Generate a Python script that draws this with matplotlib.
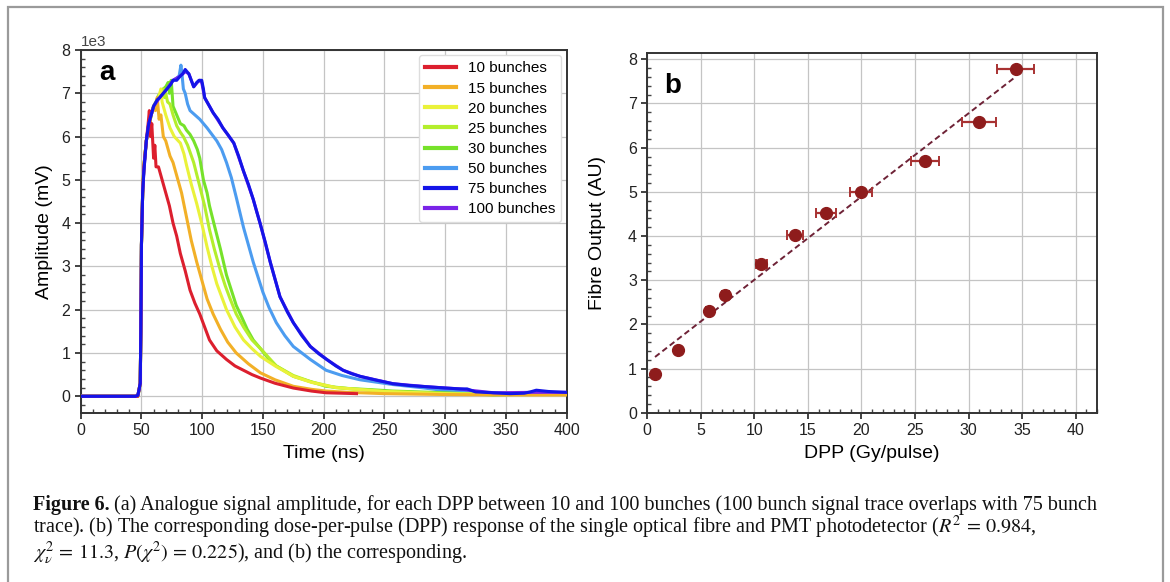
import numpy as np
import matplotlib
matplotlib.use("Agg")
import matplotlib.pyplot as plt
from matplotlib.patches import Rectangle
from matplotlib.ticker import AutoMinorLocator

plt.rcParams['font.family'] = ['Liberation Sans', 'DejaVu Sans']
plt.rcParams['mathtext.fontset'] = 'stix'

# ---- panel a: signal traces (time in ns, amplitude in mV) ----
t10 = [0, 47, 48, 49, 49.5, 50, 51, 52, 54, 55.5, 56.5, 57.5, 58.5, 60, 61, 62, 64, 66, 68, 71, 73, 76, 79,
       82, 86, 90, 94, 98, 102, 106, 112, 120, 127, 134, 141, 148, 160, 175, 190, 202, 215, 227]
a10 = [0, 0, 150, 300, 1500, 3500, 4700, 5300, 5900, 6300, 6600, 6000, 6300, 5500, 5800, 5300, 5300, 5100,
       4900, 4600, 4400, 4000, 3700, 3300, 2900, 2450, 2150, 1900, 1600, 1300, 1050, 850, 700, 600, 500, 420,
       300, 190, 120, 80, 70, 60]

t15 = [0, 47, 48, 49, 49.5, 50, 51, 52, 54, 56, 58, 60, 61.5, 63, 64.5, 66, 68, 70, 73.5, 76, 79, 83, 87, 91,
       95.5, 100, 104, 109, 115, 121, 128, 138, 148, 160, 175, 190, 202, 220, 250, 300, 350, 400]
a15 = [0, 0, 150, 300, 1500, 3500, 4700, 5300, 5900, 6200, 6500, 6700, 6600, 6900, 6400, 6500, 6000, 5900,
       5550, 5400, 5100, 4700, 4150, 3600, 3100, 2650, 2250, 1900, 1550, 1250, 1000, 750, 540, 380, 230, 160,
       120, 90, 60, 40, 30, 30]

t20 = [0, 47, 48, 49, 49.5, 50, 51, 52, 54, 56, 58, 60, 62, 64, 66, 67, 68, 70, 73.5, 77, 82, 85, 87, 91, 95.5,
       100, 104, 108, 112, 116, 120, 127, 134, 141, 148, 160, 175, 190, 210, 250, 300, 350, 400]
a20 = [0, 0, 150, 300, 1500, 3500, 4700, 5300, 5900, 6200, 6500, 6700, 6800, 6900, 7100, 6800, 6700, 6500,
       6200, 6000, 5850, 5600, 5350, 4900, 4450, 3950, 3450, 3000, 2600, 2300, 2000, 1600, 1300, 1100, 920,
       700, 460, 320, 200, 110, 60, 40, 40]

t25 = [0, 47, 48, 49, 49.5, 50, 51, 52, 54, 56, 58, 60, 62, 64, 66, 68, 69, 70, 71.5, 73.5, 76, 79, 82, 84.5,
       88, 93, 98, 102, 106, 110, 115, 119, 123, 128, 134, 141, 148, 161, 175, 190, 210, 250, 300, 350, 400]
a25 = [0, 0, 150, 300, 1500, 3500, 4700, 5300, 5900, 6200, 6500, 6700, 6800, 6900, 7000, 7100, 6900, 7000,
       6800, 6750, 6500, 6250, 6100, 6000, 5800, 5400, 4850, 4400, 3850, 3400, 2900, 2550, 2250, 1900, 1600,
       1300, 1100, 700, 480, 330, 200, 110, 60, 40, 40]

t30 = [0, 47, 48, 49, 49.5, 50, 51, 52, 54, 56, 58, 60, 62, 64, 66, 68, 70, 72, 73, 74.5, 76, 79, 82, 85, 87,
       90, 93, 96, 98, 101, 104, 106, 110, 115, 120, 124, 128, 133, 137, 142, 148, 155, 161, 175, 190, 202,
       220, 240, 257, 300, 340, 370, 400]
a30 = [0, 0, 150, 300, 1500, 3500, 4700, 5300, 5900, 6200, 6500, 6700, 6800, 6950, 7000, 7100, 7150, 7250,
       7000, 7300, 6700, 6500, 6300, 6250, 6150, 6050, 5900, 5700, 5500, 5000, 4700, 4400, 3950, 3400, 2800,
       2450, 2100, 1800, 1550, 1300, 1100, 850, 700, 460, 330, 230, 180, 150, 120, 80, 30, 50, 50]

t50 = [0, 47, 48, 49, 49.5, 50, 51, 52, 54, 56, 58, 60, 63, 66, 70, 73, 76, 79, 81, 82.5, 83.5, 84.5, 86, 88,
       90, 94, 98, 101, 104, 108, 112, 116, 120, 124, 128, 131, 134, 138, 142, 146, 150, 155, 161, 168, 175,
       182, 189, 202, 215, 230, 257, 280, 300, 330, 360, 400]
a50 = [0, 0, 150, 300, 1500, 3500, 4700, 5300, 5900, 6300, 6500, 6700, 6850, 7000, 7100, 7200, 7300, 7350,
       7400, 7650, 7400, 7100, 7000, 6750, 6600, 6500, 6400, 6300, 6200, 6050, 5900, 5700, 5400, 5050, 4600,
       4250, 3900, 3500, 3100, 2750, 2400, 2050, 1700, 1400, 1150, 1000, 850, 600, 480, 380, 270, 200, 130,
       80, 70, 60]

t75 = [0, 45, 47, 48, 49, 49.5, 50, 51, 52, 54, 56, 58, 60, 63, 65, 68, 71, 74, 76, 79, 82, 84, 86, 87.5, 89,
       91, 93, 95.5, 97.5, 99.6, 101, 102, 105, 109, 113, 117, 121, 126, 130, 134, 138, 142, 145, 147.6, 152,
       156, 160, 164, 170, 175, 182, 189, 196, 202.5, 210, 216, 223, 230, 243.6, 257, 270, 285, 300, 312, 318,
       320, 325, 340, 353, 365, 370, 375, 385, 400]
a75 = [0, 0, 20, 150, 300, 1500, 3500, 4700, 5200, 5900, 6300, 6500, 6700, 6850, 6900, 7000, 7100, 7200, 7300,
       7300, 7400, 7450, 7550, 7500, 7450, 7300, 7150, 7250, 7300, 7300, 7100, 6900, 6750, 6550, 6400, 6200,
       6050, 5850, 5550, 5200, 4900, 4550, 4250, 4000, 3550, 3100, 2700, 2300, 1950, 1700, 1400, 1150, 980,
       850, 700, 600, 520, 460, 370, 290, 250, 220, 190, 170, 170, 150, 100, 80, 60, 70, 100, 140, 110, 90]

t100 = [0, 45, 47, 48, 49, 49.5, 50, 51, 52, 54, 56, 60, 65, 71, 76, 82, 86, 89, 93, 97.5, 99.6, 102, 109, 117,
        126, 134, 142, 147.6, 156, 164, 175, 189, 202.5, 216, 230, 257, 285, 312, 320, 340, 370, 400]
a100 = [0, 0, 20, 150, 300, 1500, 3500, 4700, 5200, 5900, 6300, 6700, 6900, 7100, 7300, 7400, 7500, 7450,
        7150, 7300, 7250, 6900, 6550, 6200, 5850, 5200, 4550, 4000, 3100, 2300, 1700, 1150, 850, 600, 460,
        290, 220, 170, 140, 80, 90, 90]

labels = ['10 bunches', '15 bunches', '20 bunches', '25 bunches', '30 bunches',
          '50 bunches', '75 bunches', '100 bunches']
colors = ['#dc1f2e', '#f2b027', '#eaf23a', '#b4ee2c', '#76e22a', '#4c9cf0', '#1414e8', '#7a24e8']
times = [t10, t15, t20, t25, t30, t50, t75, t100]
amps = [a10, a15, a20, a25, a30, a50, a75, a100]
zorders = [8, 7, 6, 5, 4, 3, 10, 9]

# ---- panel b: DPP response ----
dpp = [0.72, 2.9, 5.75, 7.28, 10.64, 13.78, 16.7, 19.97, 25.94, 30.98, 34.4]
dpp_err = [0.05, 0.14, 0.28, 0.34, 0.53, 0.72, 0.9, 1.06, 1.35, 1.62, 1.76]
fibre = [0.875, 1.41, 2.30, 2.66, 3.37, 4.03, 4.52, 5.0, 5.70, 6.59, 7.77]

caption1 = ("(a) Analogue signal amplitude, for each DPP between 10 and 100 bunches "
            "(100 bunch signal trace overlaps with 75 bunch")
caption2 = ("trace). (b) The corresponding dose-per-pulse (DPP) response of the single optical fibre "
            r"and PMT photodetector ($R^2\,=\,0.984$,")
caption3 = r"$\chi^{2}_{\nu}\,=\,11.3$, $P(\chi^{2})\,=\,0.225$), and (b) the corresponding."

fig = plt.figure(figsize=(11.7, 5.82), dpi=100)
W, H = 1170.0, 582.0

ax1 = fig.add_axes([80.7 / W, 1 - 412.7 / H, 486 / W, 362.7 / H])
ax2 = fig.add_axes([647.3 / W, 1 - 412.7 / H, 449.7 / W, 360 / H])

for t, a, c, lab, z in zip(times, amps, colors, labels, zorders):
    ax1.plot(t, a, color=c, lw=2.2, label=lab, zorder=z)
ax1.set_xlim(0, 400)
ax1.set_ylim(-380, 8000)
ax1.set_xticks(np.arange(0, 401, 50))
ax1.set_yticks(np.arange(0, 8001, 1000))
ax1.ticklabel_format(axis='y', style='sci', scilimits=(0, 0))
ax1.set_xlabel('Time (ns)', fontsize=14, labelpad=5)
ax1.set_ylabel('Amplitude (mV)', fontsize=14, labelpad=6)
ax1.text(0.038, 0.917, 'a', transform=ax1.transAxes, fontsize=20, fontweight='bold', va='baseline')
leg = ax1.legend(loc='upper right', fontsize=11, labelspacing=0.4, handlelength=2.0,
                 borderaxespad=0.35, frameon=True, fancybox=True, framealpha=1.0)
leg.set_zorder(20)
for h in leg.get_lines():
    h.set_linewidth(3)
leg.get_frame().set_edgecolor('#dddddd')

ax2.errorbar(dpp, fibre, xerr=dpp_err, fmt='o', color='#8e1c1c', ecolor='#a83232',
             markersize=8.5, elinewidth=1.6, capsize=3.5, capthick=1.4, zorder=4)
slope, icpt = np.polyfit(dpp, fibre, 1)
xfit = np.array([dpp[0], dpp[-1]])
ax2.plot(xfit, slope * xfit + icpt, ls=(0, (3, 1.8)), color='#6e2236', lw=1.4, zorder=3)
ax2.set_xlim(0, 42)
ax2.set_ylim(0, 8.15)
ax2.set_xticks(np.arange(0, 41, 5))
ax2.set_yticks(np.arange(0, 9, 1))
ax2.set_xlabel('DPP (Gy/pulse)', fontsize=14, labelpad=5)
ax2.set_ylabel('Fibre Output (AU)', fontsize=14, labelpad=16)
ax2.text(0.037, 0.888, 'b', transform=ax2.transAxes, fontsize=20, fontweight='bold', va='baseline')

for ax in (ax1, ax2):
    ax.grid(True, color='#c4c4c4', lw=0.9)
    ax.set_axisbelow(True)
    ax.xaxis.set_minor_locator(AutoMinorLocator(5))
    ax.yaxis.set_minor_locator(AutoMinorLocator(5))
    ax.tick_params(which='major', direction='out', length=4, width=1.2, labelsize=11.5, colors='#222222')
    ax.tick_params(which='minor', direction='in', length=3, width=1.0, colors='#444444')
    for s in ax.spines.values():
        s.set_linewidth(1.4)
        s.set_color('#333333')
ax1.yaxis.get_offset_text().set_fontsize(11)

# frame around figure
fig.patches.append(Rectangle((8 / W, -0.05), (1163 - 8) / W, (582 - 7) / H + 0.05,
                             transform=fig.transFigure, fill=False, edgecolor='#9a9a9a', lw=1.6))

# caption
cap_kw = dict(fontsize=14.5, family=['Liberation Serif', 'DejaVu Serif'], color='#111111', va='baseline')
x0 = 33 / W
fig.canvas.draw()
r = fig.canvas.get_renderer()
tb = fig.text(x0, 1 - 510 / H, 'Figure 6.', fontweight='bold', **cap_kw)
bb = tb.get_window_extent(renderer=r)
fig.text(bb.x1 / W + 4 / W, 1 - 510 / H, caption1, **cap_kw)
fig.text(x0, 1 - 533 / H, caption2, **cap_kw)
fig.text(x0, 1 - 559 / H, caption3, **cap_kw)

fig.savefig('out.png', dpi=100)
